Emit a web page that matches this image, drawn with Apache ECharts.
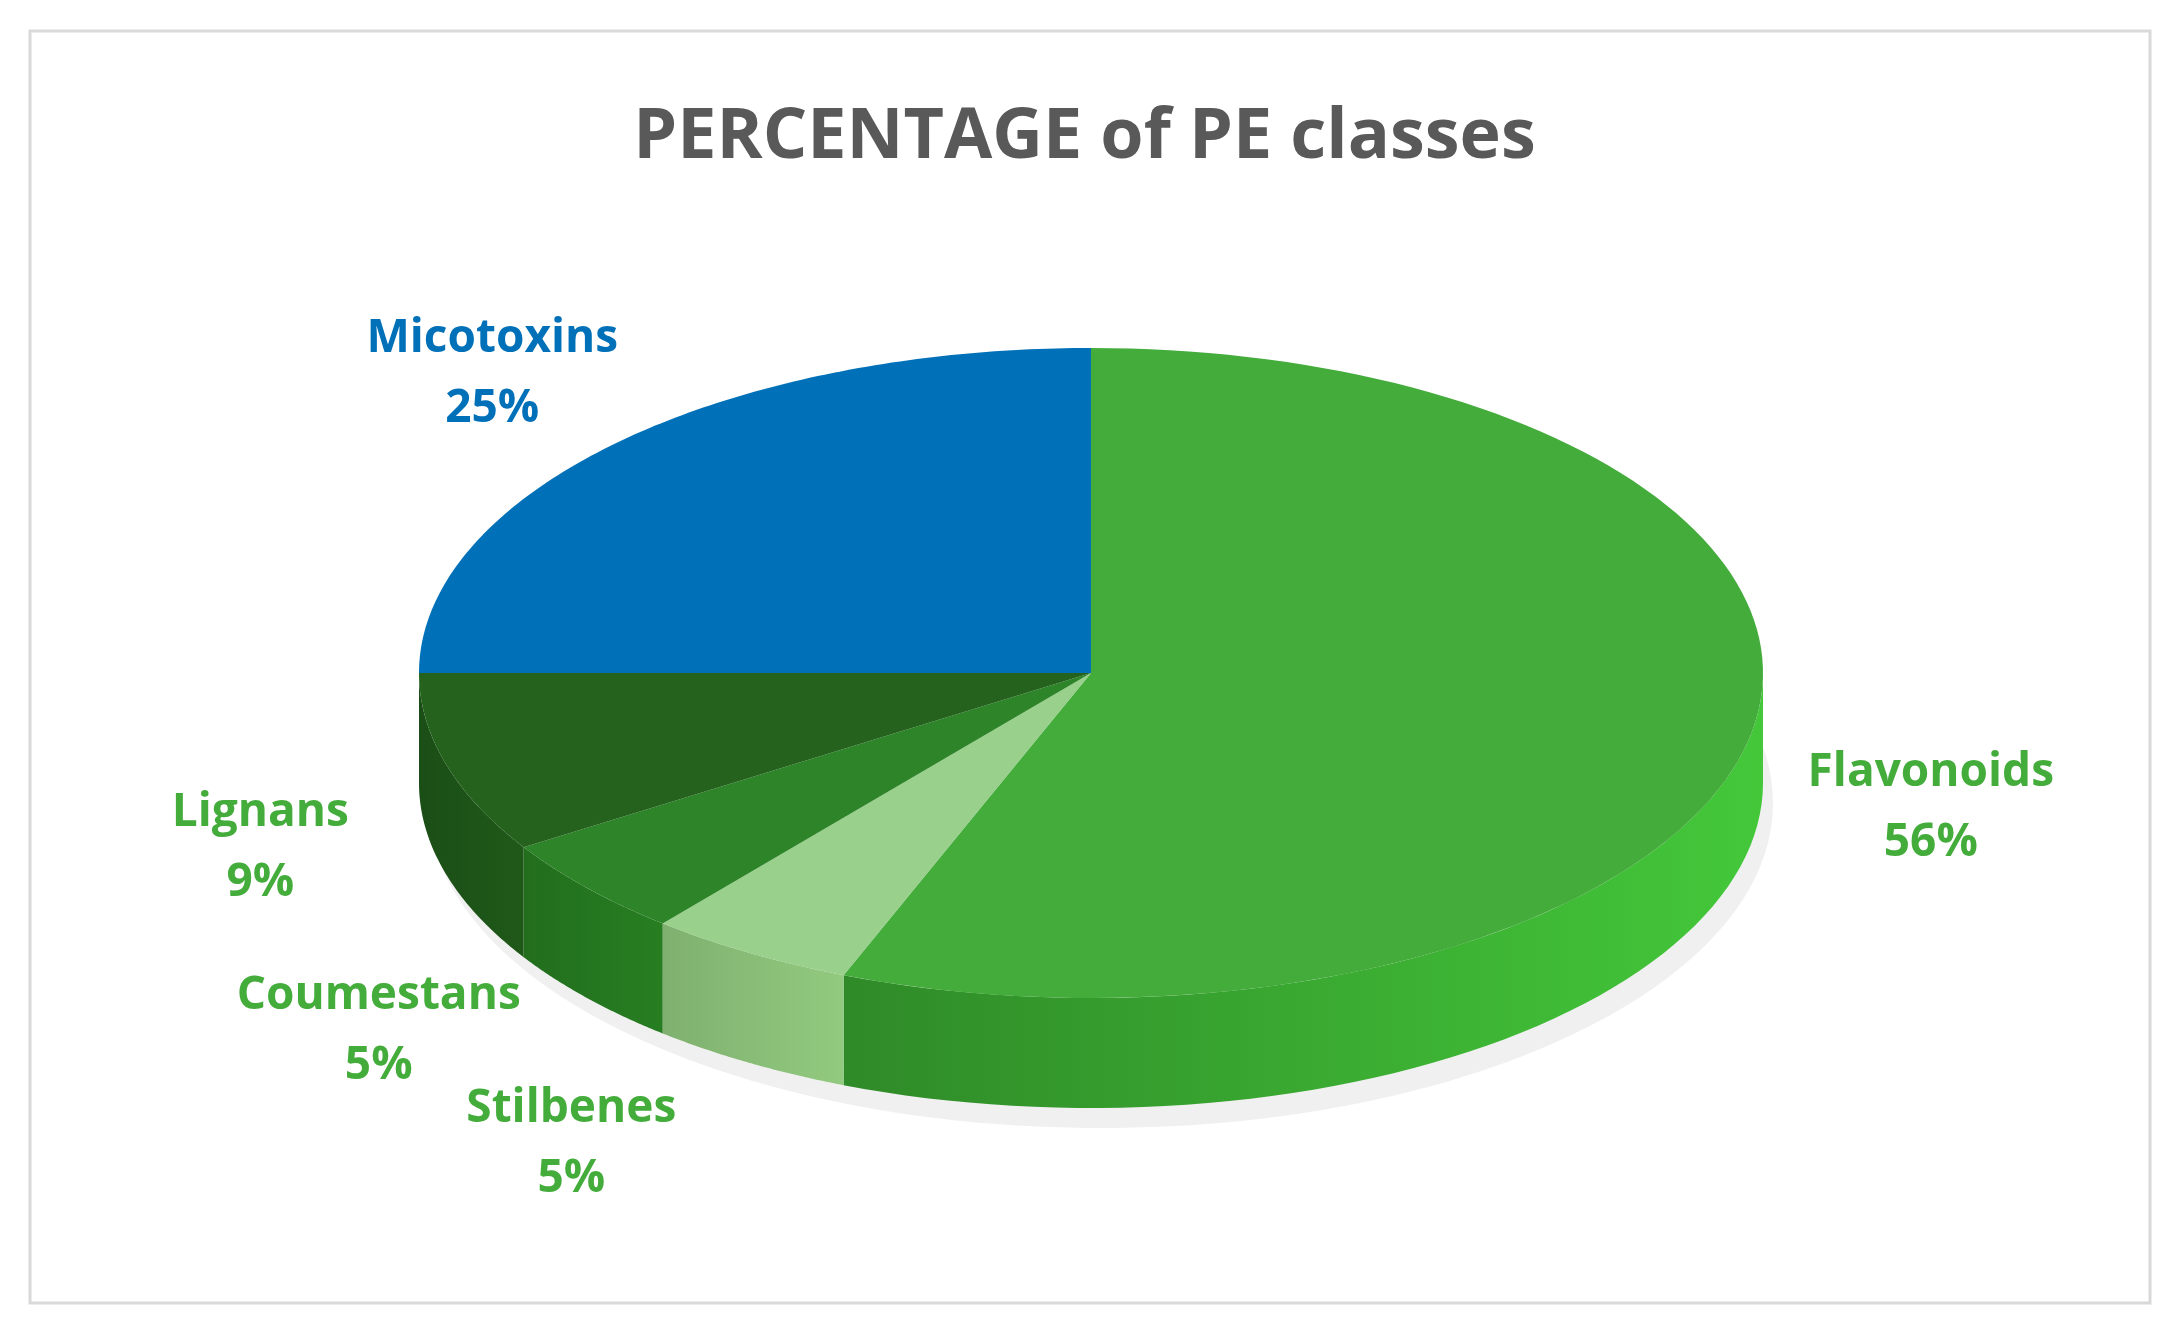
<!DOCTYPE html>
<html><head><meta charset="utf-8">
<script src="https://cdn.jsdelivr.net/npm/echarts@6/dist/echarts.min.js"></script>
<style>html,body{margin:0;padding:0;background:#fff}#c{width:2169px;height:1335px}</style>
</head><body><div id="c"></div>
<script>
const categories = ['Flavonoids','Stilbenes','Coumestans','Lignans','Micotoxins'];
const values = [56,5,5,9,25];
const topColors = ['#43AC3B','#98D08C','#2E8428','#24621E','#0070B8'];
const sideColors = ['#2F8A28','#7FB06F','#226E1D','#1B4E16','#005A94'];
const labelColors = ['#43AC3B','#43AC3B','#43AC3B','#43AC3B','#0070B8'];

const total = values.reduce((a,b)=>a+b,0);
const cx=1091, cy=673, rx=672, ry=325, depth=110;
const P = (t,dy)=>[cx+rx*Math.sin(t), cy-ry*Math.cos(t)+(dy||0)];

function renderItem(params, api){
  const i = params.dataIndex;
  let start=0; for(let k=0;k<i;k++) start+=values[k];
  const a0 = start/total*2*Math.PI, a1=(start+api.value(0))/total*2*Math.PI;
  const children=[];
  const s0=Math.max(a0,Math.PI/2), s1=Math.min(a1,1.5*Math.PI);
  if(s1>s0){
    const pts=[]; const n=60;
    for(let k=0;k<=n;k++) pts.push(P(s0+(s1-s0)*k/n));
    for(let k=n;k>=0;k--) pts.push(P(s0+(s1-s0)*k/n,depth));
    children.push({type:'polygon',shape:{points:pts},style:{fill:new echarts.graphic.LinearGradient(0,0,1,0,[{offset:0,color:sideColors[i]},{offset:1,color:echarts.color.lift(sideColors[i],i===0?-0.45:-0.15)}])}});
  }
  const pts=[[cx,cy]]; const n=120;
  for(let k=0;k<=n;k++) pts.push(P(a0+(a1-a0)*k/n));
  children.push({type:'polygon',shape:{points:pts},style:{fill:topColors[i]}});
  const m=(a0+a1)/2; const fc=Math.max(0,-Math.cos(m)); const front=fc>0;
  const fx = 1.26 + 0.35*fc*fc, fy = 1.3 + 0.25*fc*fc;
  const lx=cx+rx*Math.sin(m)*fx, ly=cy-ry*Math.cos(m)*fy+(front?depth*0.5:0);
  children.push({type:'text',z2:10,style:{x:lx,y:ly,text:categories[i]+'\n'+Math.round(api.value(0)/total*100)+'%',
    fill:labelColors[i],font:'bold 46px "Open Sans", sans-serif',align:'center',verticalAlign:'middle',lineHeight:70}});
  return {type:'group',children};
}

const chart=echarts.init(document.getElementById('c'));
chart.setOption({
  animation:false,
  title:{text:'PERCENTAGE of PE classes',left:'center',top:98,textStyle:{fontSize:70,fontWeight:'bold',color:'#595959',fontFamily:'"Open Sans", sans-serif'}},
  graphic:[{type:'rect',shape:{x:30,y:31,width:2120,height:1272},style:{fill:'none',stroke:'#D9D9D9',lineWidth:3},z:-10},
    {type:'ellipse',shape:{cx:cx+10,cy:cy+depth+20,rx:rx,ry:ry},style:{fill:'rgba(0,0,0,0.06)',shadowBlur:30,shadowColor:'rgba(0,0,0,0.15)'},z:-5}],
  series:[{type:'custom',coordinateSystem:'none',renderItem,data:values.map(v=>[v])}]
});
</script></body></html>
